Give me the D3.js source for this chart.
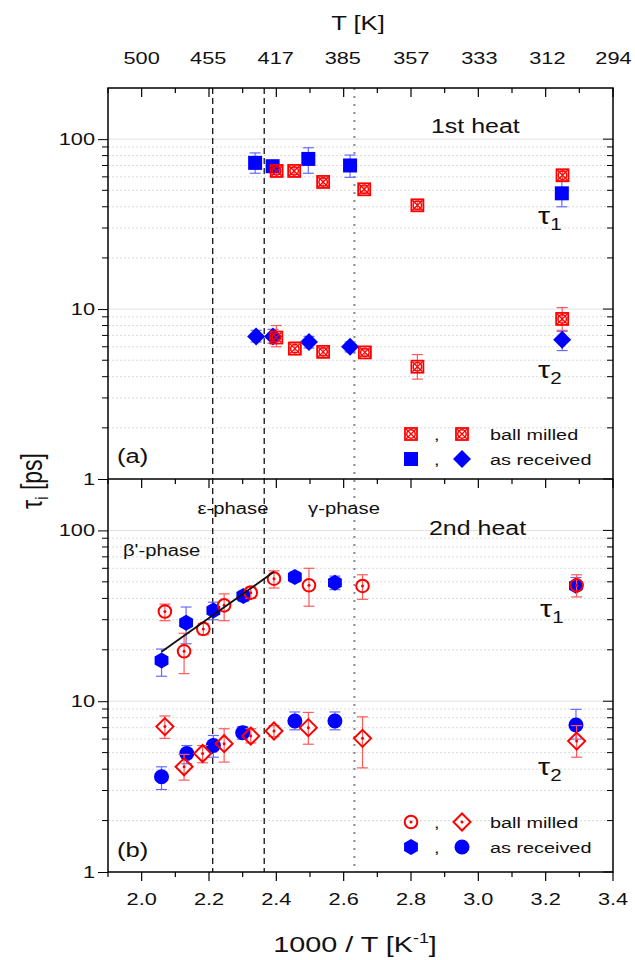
<!DOCTYPE html>
<html>
<head>
<meta charset="utf-8">
<script src="https://cdn.jsdelivr.net/npm/d3@7"></script>
<style>
  body { margin: 0; background: #fff; }
  svg { font-family: "Liberation Sans", Arial, sans-serif; }
</style>
</head>
<body>
<div id="chart"></div>
<script>
// x positions in 1000/T, values in ps, [x, value, low, high]
const aTau1Milled = [[2.401, 65, 62, 68], [2.453, 65, 62, 68], [2.539, 56, 53, 59], [2.661, 50.7, 48, 53], [2.819, 40.8, 38.5, 43], [3.25, 61.3, 57, 66]]
const aTau1Recv = [[2.337, 72.5, 63, 83], [2.389, 69.3, 66, 73], [2.495, 76.5, 63, 89], [2.619, 70, 59.6, 80.6], [3.248, 48, 40, 57]]
const aTau2Milled = [[2.40, 6.8, 6.0, 8.0], [2.455, 5.85, 5.4, 6.4], [2.539, 5.6, 5.3, 5.9], [2.663, 5.56, 5.3, 5.8], [2.819, 4.58, 3.87, 5.4], [3.249, 8.75, 7.5, 10.2]]
const aTau2Recv = [[2.34, 6.9, 6.4, 7.5], [2.39, 6.9, 6.3, 7.6], [2.497, 6.4, 5.9, 6.9], [2.619, 6.0, 5.6, 6.4], [3.249, 6.6, 5.7, 7.4]]

const bTau1Milled = [[2.069, 33.5, 29.6, 37], [2.126, 19.6, 14.5, 25], [2.183, 26.5, 24.5, 28.5], [2.245, 36.4, 29.6, 42.5], [2.324, 43.2, 40, 46.5], [2.393, 52.2, 46, 58], [2.497, 47.7, 36, 60], [2.656, 47.3, 39.5, 55], [3.292, 47.7, 40.8, 55]]
const bTau1Recv = [[2.059, 17.3, 14, 20.2], [2.132, 28.8, 21.7, 35.6], [2.213, 34, 30, 38], [2.302, 41.3, 38.5, 44], [2.455, 53.4, 50, 57], [2.574, 49.4, 45, 54], [3.29, 47.5, 45, 53]]
const bTau2Milled = [[2.069, 7.1, 6.06, 8.2], [2.126, 4.13, 3.45, 4.88], [2.181, 4.94, 4.36, 5.5], [2.245, 5.64, 4.4, 6.9], [2.324, 6.25, 5.7, 6.9], [2.393, 6.69, 6.2, 7.2], [2.495, 7.0, 5.6, 8.6], [2.656, 6.06, 4.07, 8.1], [3.292, 5.84, 4.7, 7.2]]
const bTau2Recv = [[2.059, 3.61, 3.04, 4.13], [2.134, 4.94, 4.3, 5.5], [2.213, 5.5, 4.7, 6.3], [2.30, 6.54, 6.0, 7.1], [2.455, 7.66, 6.8, 8.65], [2.574, 7.66, 6.8, 8.65], [3.29, 7.25, 6.0, 8.96]]

const fitLine = [[2.059, 19.5], [2.393, 57.2]]
const phaseLines = [2.211, 2.364]
const gammaLine = 2.632
const topTicks = [500, 455, 417, 385, 357, 333, 312, 294]
const xTicks = [2.0, 2.2, 2.4, 2.6, 2.8, 3.0, 3.2, 3.4]
const yTicks = [1, 10, 100]

const W = 635, H = 960
const left = 108, right = 613
const aTop = 88, mid = 479, bBot = 872
const SX = 1.28 // the figure is stretched sideways

const svg = d3.select('#chart').append('svg').attr('width', W).attr('height', H)

const x = d3.scaleLinear().domain([1.9, 3.4]).range([left, right])
const yA = d3.scaleLog().domain([1, 200]).range([mid, aTop])
const yB = d3.scaleLog().domain([1, 200]).range([bBot, mid])

const RED = '#ff0000', BLUE = '#0000ff'
const minorX = d3.range(19, 35).map(d => d / 10)
const minorY = [2, 3, 4, 5, 6, 7, 8, 9, 20, 30, 40, 50, 60, 70, 80, 90]

function txt(tx, ty, str, size, anchor) {
  return svg.append('text')
    .attr('transform', `translate(${tx},${ty}) scale(${SX},1)`)
    .attr('text-anchor', anchor || 'start').attr('font-size', size).attr('fill', '#111')
    .text(str)
}

function grid(y) {
  const g = svg.append('g')
  g.selectAll('line.minor').data(minorY).enter().append('line')
    .attr('x1', left).attr('x2', right).attr('y1', d => y(d)).attr('y2', d => y(d))
    .attr('stroke', '#dadada').attr('stroke-width', 1).attr('stroke-dasharray', '2,2')
  g.selectAll('line.major').data([10, 100]).enter().append('line')
    .attr('x1', left).attr('x2', right).attr('y1', d => y(d)).attr('y2', d => y(d))
    .attr('stroke', '#e0e0e0').attr('stroke-width', 1)
}
grid(yA)
grid(yB)

// phase boundaries across both panels
svg.selectAll('line.phase').data(phaseLines).enter().append('line')
  .attr('x1', d => x(d)).attr('x2', d => x(d)).attr('y1', aTop).attr('y2', bBot)
  .attr('stroke', '#111').attr('stroke-width', 1.3).attr('stroke-dasharray', '6,4')
svg.append('line')
  .attr('x1', x(gammaLine)).attr('x2', x(gammaLine)).attr('y1', aTop).attr('y2', bBot)
  .attr('stroke', '#888').attr('stroke-width', 2).attr('stroke-dasharray', '2,6')

// y axes: outward ticks left, inward ticks right
function yAxes(y, labelOne) {
  const g = svg.append('g').attr('transform', `translate(${left},0)`)
  g.call(d3.axisLeft(y).tickValues(yTicks).tickFormat('').tickSize(10).tickSizeOuter(0))
  g.select('.domain').remove()
  g.selectAll('line.mn').data(minorY).enter().append('line')
    .attr('x1', -6).attr('x2', 0).attr('y1', d => y(d)).attr('y2', d => y(d)).attr('stroke', '#000')
  yTicks.filter(v => v > 1 || labelOne).forEach(v => txt(left - 13, y(v) + 6, v, 17, 'end'))
  const r = svg.append('g').attr('transform', `translate(${right},0)`)
  r.selectAll('line.mj').data(yTicks).enter().append('line')
    .attr('x1', -10).attr('x2', 0).attr('y1', d => y(d)).attr('y2', d => y(d)).attr('stroke', '#000')
  r.selectAll('line.mn').data(minorY).enter().append('line')
    .attr('x1', -6).attr('x2', 0).attr('y1', d => y(d)).attr('y2', d => y(d)).attr('stroke', '#000')
}
yAxes(yA, true)
yAxes(yB, true)

function xTickRow(y0) {
  svg.append('g').selectAll('line').data(minorX).enter().append('line')
    .attr('x1', d => x(d)).attr('x2', d => x(d))
    .attr('y1', y0).attr('y2', (d, i) => y0 + (i % 2 === 1 ? 9 : 5))
    .attr('stroke', '#000').attr('stroke-width', 1.2)
}
xTickRow(aTop)
xTickRow(mid)
xTickRow(bBot)

// frame lines
svg.append('rect').attr('x', left).attr('y', aTop).attr('width', right - left).attr('height', bBot - aTop)
  .attr('fill', 'none').attr('stroke', '#000').attr('stroke-width', 1.5)
svg.append('line').attr('x1', left).attr('x2', right).attr('y1', mid).attr('y2', mid)
  .attr('stroke', '#000').attr('stroke-width', 1.5)

// axis labels
xTicks.forEach(v => txt(x(v), 905, v.toFixed(1), 17, 'middle'))
topTicks.forEach(v => txt(x(1000 / v), 64, v, 17, 'middle'))
txt(358, 30, 'T [K]', 20, 'middle')
const xl = txt(355, 952, '1000 / T [K', 22.5, 'middle')
xl.append('tspan').attr('font-size', 14).attr('dy', -9).text('-1')
xl.append('tspan').attr('dy', 9).text(']')
const yl = svg.append('text').attr('transform', `translate(42,481) scale(${SX},1) rotate(-90)`)
  .attr('text-anchor', 'middle').attr('font-size', 23).attr('fill', '#111')
yl.append('tspan').text('τ')
yl.append('tspan').attr('font-size', 15).attr('dy', 5).text('i')
yl.append('tspan').attr('dy', -5).text(' [ps]')

// markers
function errBars(data, y, color) {
  const g = svg.append('g')
  data.forEach(d => {
    g.append('line').attr('x1', x(d[0])).attr('x2', x(d[0])).attr('y1', y(d[2])).attr('y2', y(d[3]))
      .attr('stroke', color).attr('stroke-width', 1.2)
    ;[d[2], d[3]].forEach(v => g.append('line').attr('x1', x(d[0]) - 5.5).attr('x2', x(d[0]) + 5.5)
      .attr('y1', y(v)).attr('y2', y(v)).attr('stroke', color).attr('stroke-width', 1.2))
  })
}
const shapes = {
  milledBox(g) {
    g.append('rect').attr('x', -6).attr('y', -6).attr('width', 12).attr('height', 12).attr('fill', 'none').attr('stroke', RED).attr('stroke-width', 1.8)
    g.append('circle').attr('r', 4.2).attr('fill', 'none').attr('stroke', RED).attr('stroke-width', 1.5)
    g.append('path').attr('d', 'M-5,-5L5,5M-5,5L5,-5').attr('stroke', RED).attr('stroke-width', 1.3)
  },
  square(g) { g.append('rect').attr('x', -7).attr('y', -7).attr('width', 14).attr('height', 14).attr('fill', BLUE) },
  diamond(g) { g.append('path').attr('d', 'M0,-9L9,0L0,9L-9,0Z').attr('fill', BLUE) },
  ring(g) {
    g.append('circle').attr('r', 6.3).attr('fill', 'none').attr('stroke', RED).attr('stroke-width', 2)
    g.append('circle').attr('r', 1.5).attr('fill', RED)
  },
  ringDiamond(g) {
    g.append('path').attr('d', 'M0,-8.5L8.5,0L0,8.5L-8.5,0Z').attr('fill', 'none').attr('stroke', RED).attr('stroke-width', 2)
    g.append('circle').attr('r', 1.5).attr('fill', RED)
  },
  hexagon(g) {
    const pts = d3.range(6).map(i => { const a = Math.PI / 3 * i + Math.PI / 6; return [8 * Math.cos(a), 8 * Math.sin(a)] })
    g.append('path').attr('d', 'M' + pts.join('L') + 'Z').attr('fill', BLUE)
  },
  dot(g) { g.append('circle').attr('r', 7.5).attr('fill', BLUE) }
}
function points(data, y, shape) {
  svg.append('g').selectAll('g').data(data).enter().append('g')
    .attr('transform', d => `translate(${x(d[0])},${y(d[1])})`)
    .each(function () { shapes[shape](d3.select(this)) })
}
const EB = '#6a6aff', ER = '#ff5a5a'

errBars(aTau1Recv, yA, EB); errBars(aTau2Recv, yA, EB)
errBars(aTau1Milled, yA, ER); errBars(aTau2Milled, yA, ER)
points(aTau1Recv, yA, 'square'); points(aTau2Recv, yA, 'diamond')
points(aTau1Milled, yA, 'milledBox'); points(aTau2Milled, yA, 'milledBox')

errBars(bTau1Recv, yB, EB); errBars(bTau2Recv, yB, EB)
points(bTau1Recv, yB, 'hexagon'); points(bTau2Recv, yB, 'dot')
errBars(bTau1Milled, yB, ER); errBars(bTau2Milled, yB, ER)
points(bTau1Milled, yB, 'ring'); points(bTau2Milled, yB, 'ringDiamond')

svg.append('path').datum(fitLine)
  .attr('d', d3.line().x(d => x(d[0])).y(d => yB(d[1])))
  .attr('stroke', '#111').attr('stroke-width', 1.8).attr('fill', 'none')

// labels
function tau(tx, ty, sub) {
  const t = txt(tx, ty, 'τ', 24)
  t.append('tspan').attr('font-size', 16).attr('dy', 6).text(sub)
}
txt(431, 133, '1st heat', 19.5)
txt(429, 535, '2nd heat', 19.5)
tau(538, 224, '1'); tau(538, 378, '2')
tau(540, 617, '1'); tau(538, 775, '2')
txt(117, 463, '(a)', 20)
txt(117, 857, '(b)', 20)
txt(233, 514, 'ε-phase', 15.8, 'middle')
txt(344, 514, 'γ-phase', 15.8, 'middle')
txt(123, 556, "β'-phase", 15.8)

function legend(y0, rows) {
  rows.forEach((r, i) => {
    const yy = y0 + i * 25
    shapes[r[0]](svg.append('g').attr('transform', `translate(411,${yy})`))
    shapes[r[1]](svg.append('g').attr('transform', `translate(462,${yy})`))
    txt(434, yy + 6, ',', 15.5)
    txt(490, yy + 6, r[2], 15.5)
  })
}
legend(434, [['milledBox', 'milledBox', 'ball milled'], ['square', 'diamond', 'as received']])
legend(822, [['ring', 'ringDiamond', 'ball milled'], ['hexagon', 'dot', 'as received']])
</script>
</body>
</html>
